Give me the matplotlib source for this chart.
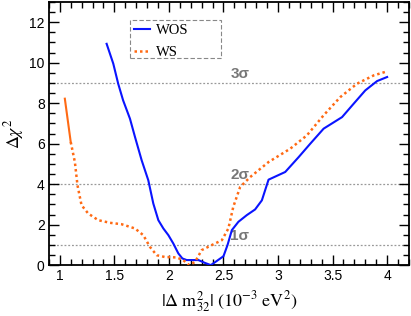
import matplotlib.pyplot as plt
from matplotlib.ticker import MultipleLocator
from matplotlib.patches import Rectangle

plt.rcParams['mathtext.fontset'] = 'stix'

# data
wos_x = [1.429, 1.49, 1.535, 1.58, 1.643, 1.689, 1.75, 1.811, 1.857, 1.903, 1.949,
         1.995, 2.04, 2.086, 2.123, 2.163, 2.24, 2.27, 2.33, 2.384, 2.44, 2.50, 2.537,
         2.577, 2.637, 2.714, 2.79, 2.852, 2.913, 3.066, 3.19, 3.296, 3.418, 3.587,
         3.693, 3.80, 3.908, 4.0]
wos_y = [10.93, 9.95, 8.96, 8.14, 7.23, 6.33, 5.18, 4.19, 3.04, 2.22, 1.81,
         1.48, 1.07, 0.58, 0.33, 0.25, 0.25, 0.25, 0.11, 0.0, 0.21, 0.44, 0.99,
         1.73, 2.14, 2.47, 2.75, 3.2, 4.22, 4.6, 5.34, 6.0, 6.74, 7.31,
         7.97, 8.63, 9.09, 9.29]

ws_x = [1.046, 1.10, 1.138, 1.162, 1.199, 1.26, 1.352, 1.46, 1.566, 1.689, 1.765,
        1.826, 1.888, 1.964, 2.07, 2.13, 2.187, 2.24, 2.30, 2.393, 2.485, 2.545,
        2.59, 2.653, 2.745, 2.82, 2.913, 3.112, 3.265, 3.418, 3.571, 3.724, 3.877, 4.0]
ws_y = [8.22, 6.08, 5.09, 3.94, 2.96, 2.55, 2.22, 2.09, 2.02, 1.81, 1.48,
        0.9, 0.49, 0.40, 0.38, 0.25, 0.0, 0.16, 0.74, 0.99, 1.23, 1.81,
        2.88, 3.86, 4.35, 4.68, 5.09, 5.75, 6.41, 7.40, 8.30, 8.96, 9.37, 9.57]

sigma_levels = [1, 4, 9]
sigma_labels = ['1σ', '2σ', '3σ']

blue = '#0a14ff'
orange = '#ff6a14'

fig = plt.figure(figsize=(4.11, 3.16), dpi=100)
ax = fig.add_axes([0.119, 0.161, 0.876, 0.833])

for lev, lab in zip(sigma_levels, sigma_labels):
    ax.axhline(lev, color='#999999', linestyle=(0, (1.5, 1.5)), linewidth=0.9, zorder=1)
    ax.text(2.65, lev + 0.1, lab, color='#777777', fontsize=11, fontweight='bold',
            family='Liberation Sans', ha='center', va='bottom', zorder=1)

ax.plot(wos_x, wos_y, color=blue, linewidth=1.5, label='WOS', zorder=3)
# first steep piece of WS is drawn solid in the reference
ax.plot(ws_x[:2], ws_y[:2], color=orange, linewidth=1.5, zorder=3)
ax.plot(ws_x[1:], ws_y[1:], color=orange, linewidth=1.8, linestyle=(0, (1, 1.2)),
        label='WS', zorder=3)

ax.set_xlim(0.9, 4.2)
ax.set_ylim(0, 13)
ax.xaxis.set_major_locator(MultipleLocator(0.5))
ax.xaxis.set_minor_locator(MultipleLocator(0.1))
ax.yaxis.set_major_locator(MultipleLocator(2))
ax.yaxis.set_minor_locator(MultipleLocator(0.5))
ax.tick_params(which='both', direction='in', top=True, right=True, width=1.0)
ax.tick_params(which='major', length=7, labelsize=10, pad=3)
ax.tick_params(which='minor', length=4)
for lab in ax.get_xticklabels() + ax.get_yticklabels():
    lab.set_family('Liberation Sans')
ax.xaxis.set_major_formatter(plt.FuncFormatter(lambda v, p: f'{v:g}'))
for s in ax.spines.values():
    s.set_linewidth(1.3)

ax.set_xlabel(r'$|\Delta\ \mathrm{m}^2_{32}|\ (10^{-3}\ \mathrm{eV}^2)$', fontsize=13, labelpad=4)
ax.set_ylabel(r'$\Delta\chi^2$', fontsize=13, labelpad=2)

# legend without its own frame, dashed box drawn separately
leg = ax.legend(loc='upper left', bbox_to_anchor=(0.236, 0.915), frameon=False,
                prop={'family': 'Liberation Serif', 'size': 10.5}, handlelength=1.1,
                borderpad=0, labelspacing=0.6, handletextpad=0.4, borderaxespad=0)
ax.add_patch(Rectangle((0.225, 0.787), 0.253, 0.145, transform=ax.transAxes, fill=False,
                       edgecolor='#888888', linestyle=(0, (4, 2)), linewidth=0.8, zorder=4))

fig.savefig('out.png', dpi=100)
